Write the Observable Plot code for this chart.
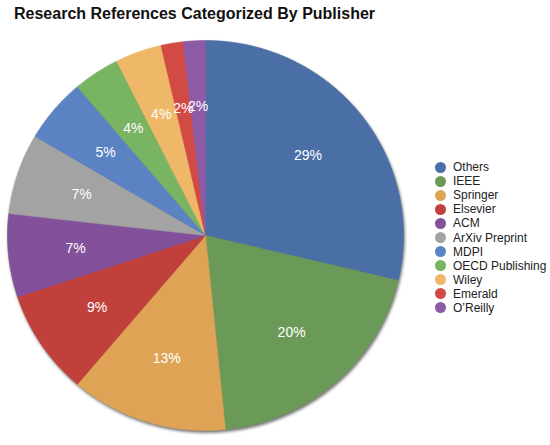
<!DOCTYPE html>
<html><head><meta charset="utf-8">
<script src="https://cdn.jsdelivr.net/npm/d3@7"></script>
<script src="https://cdn.jsdelivr.net/npm/@observablehq/plot@0.6"></script>
<style>
body{margin:0;background:#fff;font-family:"Liberation Sans",Arial,Helvetica,sans-serif;}
#wrap{position:relative;width:550px;height:445px;overflow:hidden;}
#title{height:24px;padding:6px 0 0 14px;font-size:16px;line-height:16px;font-weight:bold;color:#111;}
#legend{position:absolute;left:435px;top:160px;font-size:12px;color:#222;}
.row{display:flex;align-items:center;height:14.1px;white-space:nowrap;}
.sw{width:11px;height:11px;border-radius:50%;margin-right:7px;flex:none;}
.pie g[aria-label="line"]{filter:drop-shadow(1.5px 2px 1.5px rgba(0,0,0,0.55));}
</style></head><body>
<div id="wrap"><div id="title">Research References Categorized By Publisher</div><div id="chart"></div><div id="legend"></div></div>
<script>
const publishers = ["Others","IEEE","Springer","Elsevier","ACM","ArXiv Preprint","MDPI","OECD Publishing","Wiley","Emerald","O\u2019Reilly"];
const shares = [28.7, 19.7, 12.8, 8.7, 6.9, 6.7, 5.3, 3.8, 3.8, 1.8, 1.8];
const colors = ["#4a6ea6","#6b9a58","#dfa356","#c2403b","#83509a","#a2a3a2","#5b82c2","#79b463","#eeb868","#d14a44","#8d5aa6"];

const data = publishers.map((name, i) => ({name, share: shares[i]}));
const total = d3.sum(shares);
const arcs = d3.pie().sort(null).value(d => d.share)(data);

const pts = [];
arcs.forEach(s => {
  const name = s.data.name;
  pts.push({name, x: 0, y: 0});
  const n = Math.max(2, Math.ceil((s.endAngle - s.startAngle) / 0.01));
  for (let i = 0; i <= n; i++) {
    const a = s.startAngle + (s.endAngle - s.startAngle) * i / n;
    pts.push({name, x: Math.sin(a), y: Math.cos(a)});
  }
  pts.push({name, x: 0, y: 0});
});
const labelR = 0.66;
const labels = arcs.map(s => {
  const a = (s.startAngle + s.endAngle) / 2;
  return {x: labelR * Math.sin(a), y: labelR * Math.cos(a), label: Math.round(s.data.share / total * 100) + "%"};
});

const chart = Plot.plot({
  width: 550, height: 415, margin: 0, className: "pie",
  x: {domain: [-1, 1], range: [7, 403], axis: null},
  y: {domain: [-1, 1], range: [400, 10], axis: null},
  color: {domain: publishers, range: colors},
  style: {fontFamily: "'Liberation Sans', Arial, Helvetica, sans-serif", background: "transparent"},
  marks: [
    Plot.line(pts, {x: "x", y: "y", z: "name", fill: "name", stroke: "name", strokeWidth: 0.6, curve: "linear"}),
    Plot.text(labels, {x: "x", y: "y", text: "label", fill: "white", fontSize: 14})
  ]
});
document.getElementById("chart").appendChild(chart);

const legend = document.getElementById("legend");
publishers.forEach((p, i) => {
  const row = document.createElement("div");
  row.className = "row";
  const sw = document.createElement("span");
  sw.className = "sw";
  sw.style.background = colors[i];
  const t = document.createElement("span");
  t.textContent = p;
  row.appendChild(sw); row.appendChild(t);
  legend.appendChild(row);
});
</script>
</body></html>
